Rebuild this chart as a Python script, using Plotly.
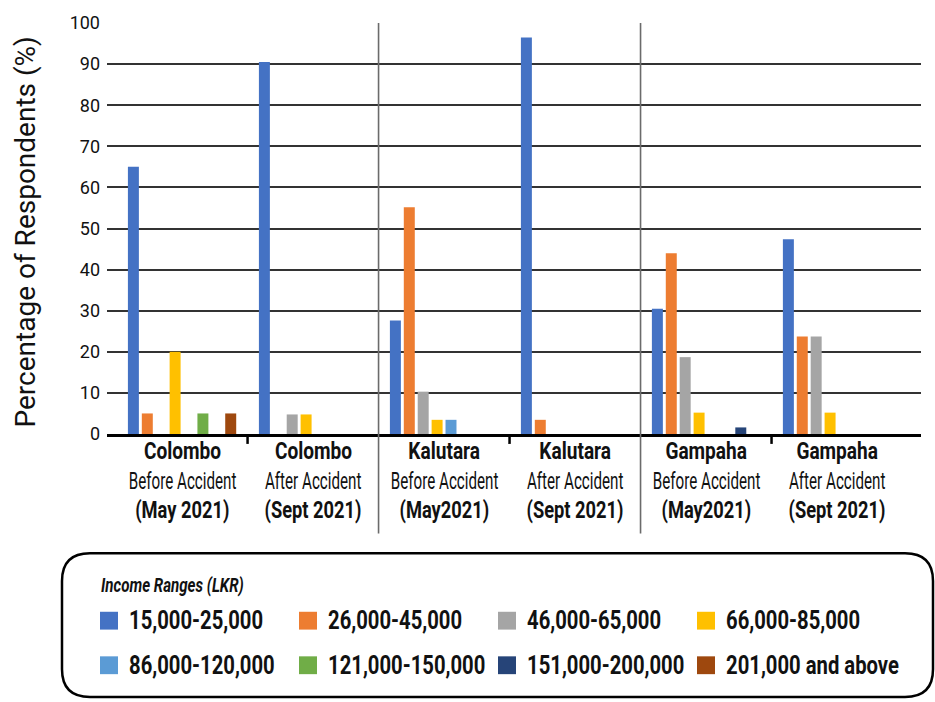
import json
import plotly.graph_objects as go

# ---- data -------------------------------------------------------------
districts = ["Colombo", "Colombo", "Kalutara", "Kalutara", "Gampaha", "Gampaha"]
periods = ["Before Accident", "After Accident", "Before Accident",
           "After Accident", "Before Accident", "After Accident"]
dates = ["(May 2021)", "(Sept 2021)", "(May2021)", "(Sept 2021)", "(May2021)", "(Sept 2021)"]

income_ranges = ["15,000-25,000", "26,000-45,000", "46,000-65,000", "66,000-85,000",
                 "86,000-120,000", "121,000-150,000", "151,000-200,000", "201,000 and above"]

inc_15_25 = [65.0, 90.5, 27.6, 96.5, 30.5, 47.4]
inc_26_45 = [5.0, 0, 55.2, 3.45, 44.0, 23.7]
inc_46_65 = [0, 4.76, 10.3, 0, 18.7, 23.7]
inc_66_85 = [20.0, 4.76, 3.45, 0, 5.2, 5.2]
inc_86_120 = [0, 0, 3.45, 0, 0, 0]
inc_121_150 = [5.0, 0, 0, 0, 0, 0]
inc_151_200 = [0, 0, 0, 0, 1.6, 0]
inc_201_up = [5.0, 0, 0, 0, 0, 0]

series_values = [inc_15_25, inc_26_45, inc_46_65, inc_66_85,
                 inc_86_120, inc_121_150, inc_151_200, inc_201_up]
colors = ["#4472C4", "#ED7D31", "#A5A5A5", "#FFC000",
          "#5B9BD5", "#70AD47", "#264478", "#9E480E"]

y_ticks = list(range(0, 101, 10))

# ---- page geometry (pixels) ---------------------------------------------
W, H = 935, 702
ML, MR, MT, MB = 107, 14, 19.5, 267.5
PW, PH = W - ML - MR, H - MT - MB

FONT = "Roboto, sans-serif"
INK = "#111111"


def px_x(px):
    return (px - ML) / PW


def px_y(py):
    return (H - MB - py) / PH


x_idx = list(range(len(districts)))

fig = go.Figure()
for name, vals, col in zip(income_ranges, series_values, colors):
    fig.add_trace(go.Bar(x=x_idx, y=vals, name=name,
                         marker=dict(color=col, line=dict(width=0)), showlegend=False))

shapes = []
annotations = []
squeeze = []  # horizontal condensing applied to each annotation's text


def add_note(sx, **kw):
    annotations.append(kw)
    squeeze.append(sx)


# small ticks between before/after pairs
for xb in [0.5, 2.5, 4.5]:
    shapes.append(dict(type="line", xref="x", yref="paper", x0=xb, x1=xb,
                       y0=0, y1=px_y(444.5), line=dict(color="black", width=2.5)))
# district separators
for xb in [1.5, 3.5]:
    shapes.append(dict(type="line", xref="x", yref="paper", x0=xb, x1=xb,
                       y0=1, y1=px_y(535), line=dict(color="#6b6b6b", width=1.6)))

# category labels (three lines each)
for i in x_idx:
    add_note(0.83, x=i, y=px_y(452), xref="x", yref="paper", showarrow=False,
             text="<b>%s</b>" % districts[i], yanchor="middle",
             font=dict(family=FONT, size=23, color=INK))
    add_note(0.66, x=i, y=px_y(482), xref="x", yref="paper", showarrow=False,
             text=periods[i], yanchor="middle",
             font=dict(family=FONT, size=23, color=INK))
    add_note(0.795, x=i, y=px_y(512), xref="x", yref="paper", showarrow=False,
             text="<b>%s</b>" % dates[i], yanchor="middle",
             font=dict(family=FONT, size=23, color=INK))

# y-axis title
add_note(1.0, x=px_x(25), y=px_y(231), xref="paper", yref="paper", showarrow=False,
         text="Percentage of Respondents (%)", textangle=-90,
         xanchor="center", yanchor="middle",
         font=dict(family=FONT, size=28, color=INK))

# legend box with rounded corners
bx0, by0, bx1, by1, r = 62, 555, 933, 700, 28


def P(px, py):
    return "%f,%f" % (px_x(px), px_y(py))


path = ("M " + P(bx0 + r, by0) + " L " + P(bx1 - r, by0) +
        " Q " + P(bx1, by0) + " " + P(bx1, by0 + r) +
        " L " + P(bx1, by1 - r) +
        " Q " + P(bx1, by1) + " " + P(bx1 - r, by1) +
        " L " + P(bx0 + r, by1) +
        " Q " + P(bx0, by1) + " " + P(bx0, by1 - r) +
        " L " + P(bx0, by0 + r) +
        " Q " + P(bx0, by0) + " " + P(bx0 + r, by0) + " Z")
shapes.append(dict(type="path", xref="paper", yref="paper", path=path,
                   line=dict(color="black", width=2.5), fillcolor="rgba(0,0,0,0)"))

add_note(0.72, x=px_x(99), y=px_y(587), xref="paper", yref="paper", showarrow=False,
         text="<b><i>Income Ranges (LKR)</i></b>", xanchor="left", yanchor="middle",
         font=dict(family=FONT, size=21, color=INK))

col_x = [100, 299, 498, 697]
row_y = [623, 668]
sq = 18
for k, (name, col) in enumerate(zip(income_ranges, colors)):
    cx = col_x[k % 4]
    cy = row_y[k // 4]
    shapes.append(dict(type="rect", xref="paper", yref="paper",
                       x0=px_x(cx), x1=px_x(cx + sq), y0=px_y(cy - sq / 2), y1=px_y(cy + sq / 2),
                       line=dict(width=0), fillcolor=col))
    add_note(0.81, x=px_x(cx + 27), y=px_y(cy), xref="paper", yref="paper",
             showarrow=False, text="<b>%s</b>" % name,
             xanchor="left", yanchor="middle",
             font=dict(family=FONT, size=25, color=INK))

fig.update_layout(
    width=W, height=H,
    margin=dict(l=ML, r=MR, t=MT, b=MB, pad=0),
    paper_bgcolor="white", plot_bgcolor="white",
    barmode="group", bargap=0.151, bargroupgap=0.21,
    xaxis=dict(range=[-0.573, 5.641], showticklabels=False, ticks="", showgrid=False,
               zeroline=False, showline=True, linecolor="black", linewidth=2.5, mirror=False),
    yaxis=dict(range=[0, 100], tickvals=y_ticks, ticktext=[str(v) for v in y_ticks],
               showgrid=True, gridcolor="#333333", gridwidth=1.6, zeroline=False,
               showline=False, ticks="", ticklabelstandoff=6,
               tickfont=dict(family=FONT, size=18, color=INK)),
    shapes=shapes,
    annotations=annotations,
    showlegend=False,
)

# condensed lettering: narrow each annotation horizontally around its anchor
post = """
var gd = document.getElementById('{plot_id}');
var sx = %s;
gd.querySelectorAll('g.annotation').forEach(function (g) {
  var i = +g.getAttribute('data-index');
  var t = g.querySelector('text.annotation-text');
  if (!t || !sx[i] || sx[i] === 1) return;
  var a = gd.layout.annotations[i];
  t.style.transformBox = 'fill-box';
  t.style.transformOrigin = (a.xanchor === 'left') ? 'left center' : 'center center';
  t.style.transform = 'scaleX(' + sx[i] + ')';
});
""" % json.dumps(squeeze)

fig.write_html("out.html", post_script=post)
